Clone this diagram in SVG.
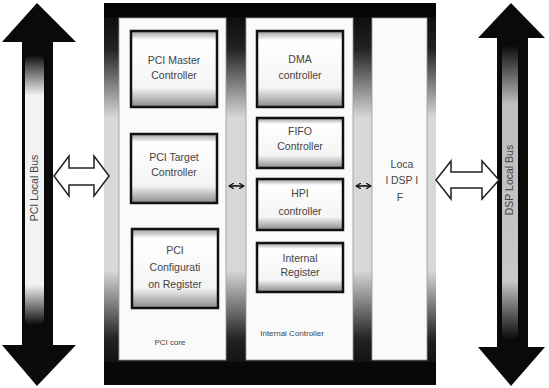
<svg xmlns="http://www.w3.org/2000/svg" width="549" height="388" viewBox="0 0 549 388">
<style>
.t{font-family:"Liberation Sans",Arial,sans-serif;font-size:10.5px;fill:#444;text-anchor:middle}
.s{font-family:"Liberation Sans",Arial,sans-serif;font-size:8px;fill:#444;text-anchor:middle}
.box{fill:url(#boxg);stroke:#111;stroke-width:2.5}
.panel{fill:#fafafa;stroke:#999;stroke-width:0.8}
.harrow{fill:#fff;stroke:#222;stroke-width:1.5;stroke-linejoin:miter}
.small{stroke:#111;stroke-width:1.6;fill:none;marker-start:url(#ms);marker-end:url(#me)}
</style>
<defs>
<linearGradient id="boxg" x1="0" y1="0" x2="0" y2="1">
<stop offset="0" stop-color="#9a9a9a"/><stop offset="0.12" stop-color="#fff"/><stop offset="0.75" stop-color="#f4f4f4"/><stop offset="1" stop-color="#8a8a8a"/>
</linearGradient>
<linearGradient id="frameg" x1="0" y1="0" x2="0" y2="1">
<stop offset="0" stop-color="#050505"/><stop offset="0.12" stop-color="#222"/><stop offset="0.3" stop-color="#d8d8d8"/><stop offset="0.7" stop-color="#d8d8d8"/><stop offset="0.88" stop-color="#222"/><stop offset="1" stop-color="#050505"/>
</linearGradient>
<linearGradient id="busg" x1="0" y1="0" x2="0" y2="1">
<stop offset="0" stop-color="#fff" stop-opacity="0"/><stop offset="0.15" stop-color="#f2f2f2"/><stop offset="0.85" stop-color="#f2f2f2"/><stop offset="1" stop-color="#fff" stop-opacity="0"/>
</linearGradient>
<linearGradient id="busg2" x1="0" y1="0" x2="0" y2="1">
<stop offset="0" stop-color="#bbb" stop-opacity="0"/><stop offset="0.2" stop-color="#bdbdbd"/><stop offset="0.8" stop-color="#c8c8c8"/><stop offset="1" stop-color="#bbb" stop-opacity="0"/>
</linearGradient>
<marker id="me" markerWidth="6" markerHeight="6" refX="5" refY="3" orient="auto" markerUnits="userSpaceOnUse"><path d="M0,0 L5,3 L0,6" fill="none" stroke="#111" stroke-width="1.2"/></marker>
<marker id="ms" markerWidth="6" markerHeight="6" refX="1" refY="3" orient="auto" markerUnits="userSpaceOnUse"><path d="M6,0 L1,3 L6,6" fill="none" stroke="#111" stroke-width="1.2"/></marker>
</defs>
<rect width="549" height="388" fill="#fff"/>

<g id="pci-local-bus">
<path d="M37,3 L76,42 L53,42 L53,345 L76,345 L37,386 L2,345 L22,345 L22,42 L2,42 Z" fill="#0a0a0a"/>
<rect x="25" y="55" width="19" height="270" rx="6" fill="url(#busg)"/>
<text class="t" transform="translate(38,188) rotate(-90)">PCI Local Bus</text>
</g>

<g id="dsp-local-bus">
<path d="M511,3 L545,38 L528,38 L528,347 L545,347 L511,386 L478,347 L497,347 L497,38 L478,38 Z" fill="#0a0a0a"/>
<rect x="502" y="45" width="16" height="295" rx="6" fill="url(#busg2)"/>
<text class="t" fill="#333" transform="translate(513,180) rotate(-90)">DSP Local Bus</text>
</g>

<g id="frame">
<rect x="104" y="3" width="332" height="382" fill="url(#frameg)"/>
<rect x="104" y="3" width="332" height="14" fill="#050505"/>
<rect x="104" y="362" width="332" height="23" fill="#080808"/>
</g>

<g id="pci-core">
<rect class="panel" x="119" y="18" width="107" height="342"/>
<text class="s" x="170" y="345">PCI core</text>
</g>
<g id="pci-master-controller">
<rect class="box" x="131" y="31" width="86" height="76"/>
<text class="t" x="174" y="64">PCI Master</text>
<text class="t" x="174" y="79">Controller</text>
</g>
<g id="pci-target-controller">
<rect class="box" x="131" y="134" width="86" height="69"/>
<text class="t" x="174" y="161">PCI Target</text>
<text class="t" x="174" y="176">Controller</text>
</g>
<g id="pci-configuration-register">
<rect class="box" x="132" y="229" width="86" height="79"/>
<text class="t" x="175" y="254">PCI</text>
<text class="t" x="175" y="271">Configurati</text>
<text class="t" x="175" y="288">on Register</text>
</g>

<g id="internal-controller">
<rect class="panel" x="246" y="18" width="107" height="342"/>
<text class="s" x="292" y="336">Internal Controller</text>
</g>
<g id="dma-controller">
<rect class="box" x="257" y="31" width="86" height="76"/>
<text class="t" x="300" y="63">DMA</text>
<text class="t" x="300" y="79">controller</text>
</g>
<g id="fifo-controller">
<rect class="box" x="257" y="118" width="86" height="50"/>
<text class="t" x="300" y="135">FIFO</text>
<text class="t" x="300" y="150">Controller</text>
</g>
<g id="hpi-controller">
<rect class="box" x="257" y="179" width="86" height="51"/>
<text class="t" x="300" y="197">HPI</text>
<text class="t" x="300" y="215">controller</text>
</g>
<g id="internal-register">
<rect class="box" x="257" y="243" width="86" height="49"/>
<text class="t" x="300" y="262">Internal</text>
<text class="t" x="300" y="276">Register</text>
</g>

<g id="local-dsp-if">
<rect class="panel" x="372" y="18" width="55" height="342"/>
<text class="t" x="402" y="168">Loca</text>
<text class="t" x="402" y="184">l DSP I</text>
<text class="t" x="400" y="201">F</text>
</g>

<g id="connectors">
<path class="harrow" d="M54,176 L69,156 L69,168 L94,168 L94,156 L109,176 L94,196 L94,185 L69,185 L69,196 Z"/>
<path class="harrow" d="M436,180 L451,161 L451,172 L482,172 L482,161 L499,180 L482,199 L482,188 L451,188 L451,199 Z"/>
<line class="small" x1="229" y1="186" x2="244" y2="186"/>
<line class="small" x1="356" y1="186" x2="371" y2="186"/>
</g>
</svg>
